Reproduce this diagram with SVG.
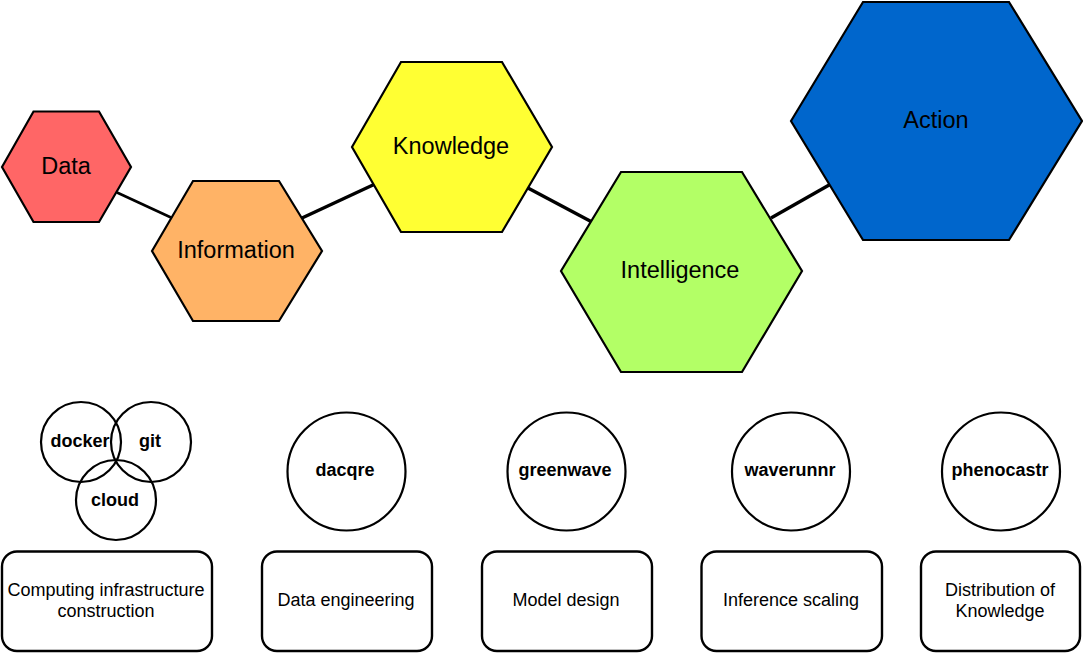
<svg xmlns="http://www.w3.org/2000/svg" width="1083" height="653" viewBox="0 0 1083 653">
  <style>
    .hex { stroke: #000; stroke-width: 2.2; stroke-linejoin: miter; }
    .hex-label { font-family: "Liberation Sans", Arial, sans-serif; font-size: 23.5px; fill: #000; text-anchor: middle; dominant-baseline: central; }
    .tool { fill: none; stroke: #000; stroke-width: 2.2; }
    .tool-label { font-family: "Liberation Sans", Arial, sans-serif; font-size: 18px; font-weight: bold; fill: #000; text-anchor: middle; dominant-baseline: central; }
    .stage { fill: #fff; stroke: #000; stroke-width: 2.4; }
    .stage-label { font-family: "Liberation Sans", Arial, sans-serif; font-size: 18px; fill: #000; text-anchor: middle; dominant-baseline: central; }
    .link { stroke: #000; fill: none; stroke-linecap: butt; }
  </style>

  <!-- connectors between the hexagons -->
  <g id="connectors">
    <line class="link" x1="117" y1="192.5" x2="171" y2="217.5" stroke-width="2.6"/>
    <line class="link" x1="302" y1="218" x2="374" y2="184.5" stroke-width="3.4"/>
    <line class="link" x1="527" y1="187.5" x2="591" y2="221.5" stroke-width="3.4"/>
    <line class="link" x1="771" y1="218" x2="830" y2="184.5" stroke-width="3.4"/>
  </g>

  <!-- hierarchy hexagons -->
  <g id="node-data">
    <polygon class="hex" fill="#FF6666" points="2,167 33.5,111.5 99,111.5 131,167 99,222 33.5,222"/>
    <text class="hex-label" x="66" y="166">Data</text>
  </g>
  <g id="node-information">
    <polygon class="hex" fill="#FFB366" points="152,251 193,181 279,181 322,251 279,321 193,321"/>
    <text class="hex-label" x="236" y="250">Information</text>
  </g>
  <g id="node-knowledge">
    <polygon class="hex" fill="#FFFF33" points="352,147 401,62 502,62 552,147 502,232 401,232"/>
    <text class="hex-label" x="451" y="146">Knowledge</text>
  </g>
  <g id="node-intelligence">
    <polygon class="hex" fill="#B3FF66" points="561,271 621,172 742,172 802,271 742,372 621,372"/>
    <text class="hex-label" x="680" y="270">Intelligence</text>
  </g>
  <g id="node-action">
    <polygon class="hex" fill="#0066CC" points="791,121 863,2 1009,2 1082,121 1009,240 863,240"/>
    <text class="hex-label" x="936" y="120">Action</text>
  </g>

  <!-- tool circles -->
  <g id="tool-docker">
    <circle class="tool" cx="81" cy="442" r="40"/>
    <text class="tool-label" x="80" y="441">docker</text>
  </g>
  <g id="tool-git">
    <circle class="tool" cx="151" cy="442" r="40"/>
    <text class="tool-label" x="150" y="441">git</text>
  </g>
  <g id="tool-cloud">
    <circle class="tool" cx="116" cy="500" r="40"/>
    <text class="tool-label" x="115" y="500">cloud</text>
  </g>
  <g id="tool-dacqre">
    <circle class="tool" cx="346.5" cy="471.5" r="59"/>
    <text class="tool-label" x="345" y="470">dacqre</text>
  </g>
  <g id="tool-greenwave">
    <circle class="tool" cx="566.5" cy="471.5" r="59"/>
    <text class="tool-label" x="565" y="470">greenwave</text>
  </g>
  <g id="tool-waverunnr">
    <circle class="tool" cx="791" cy="471.5" r="59"/>
    <text class="tool-label" x="790" y="470">waverunnr</text>
  </g>
  <g id="tool-phenocastr">
    <circle class="tool" cx="1001" cy="471.5" r="59"/>
    <text class="tool-label" x="1000" y="470">phenocastr</text>
  </g>

  <!-- stage boxes -->
  <g id="stage-computing">
    <rect class="stage" x="2" y="551.5" width="210" height="99.5" rx="15" ry="15"/>
    <text class="stage-label" x="106" y="589.5">Computing infrastructure</text>
    <text class="stage-label" x="106" y="610.5">construction</text>
  </g>
  <g id="stage-data-engineering">
    <rect class="stage" x="262" y="551.5" width="170" height="99.5" rx="15" ry="15"/>
    <text class="stage-label" x="346" y="600">Data engineering</text>
  </g>
  <g id="stage-model-design">
    <rect class="stage" x="482" y="551.5" width="170" height="99.5" rx="15" ry="15"/>
    <text class="stage-label" x="566" y="600">Model design</text>
  </g>
  <g id="stage-inference">
    <rect class="stage" x="701.5" y="551.5" width="180.5" height="99.5" rx="15" ry="15"/>
    <text class="stage-label" x="791" y="600">Inference scaling</text>
  </g>
  <g id="stage-distribution">
    <rect class="stage" x="921" y="551.5" width="159" height="99.5" rx="15" ry="15"/>
    <text class="stage-label" x="1000" y="589.5">Distribution of</text>
    <text class="stage-label" x="1000" y="610.5">Knowledge</text>
  </g>
</svg>
